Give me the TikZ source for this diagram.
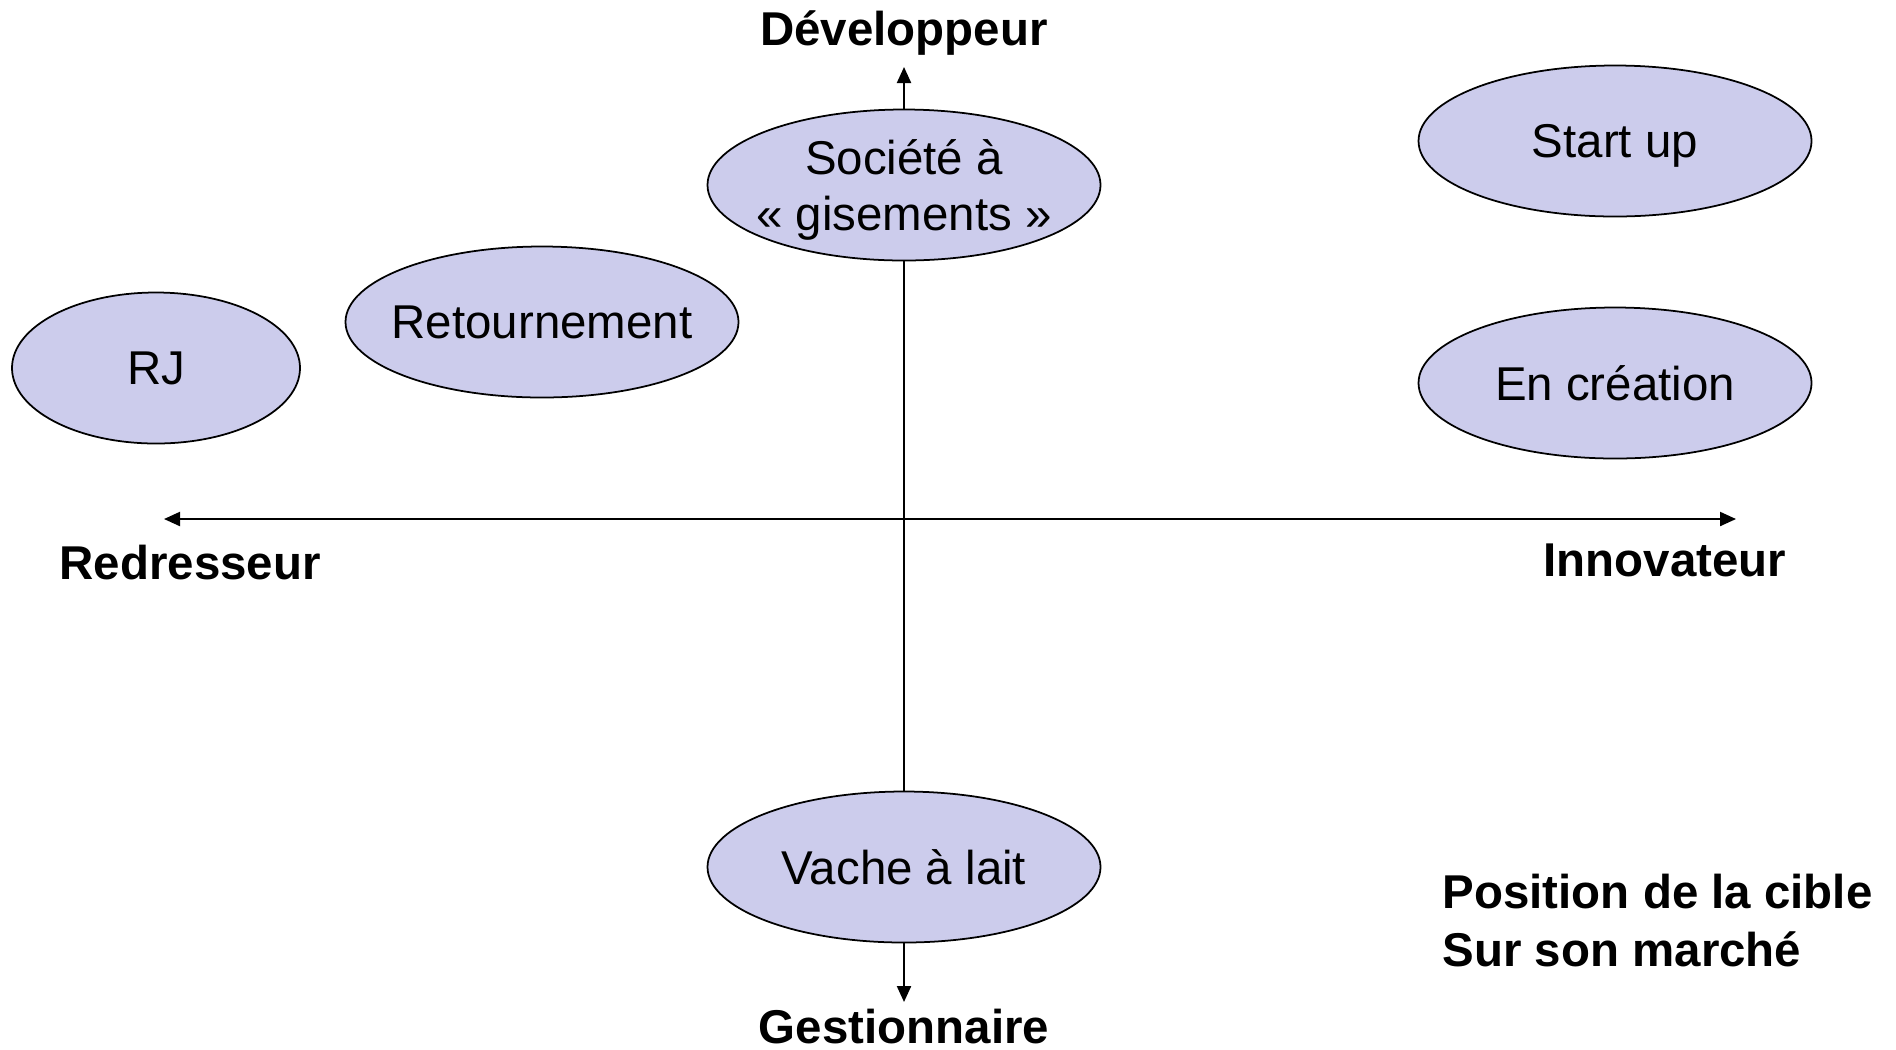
\documentclass[tikz,border=0pt]{standalone}
\usepackage{fontspec}
\setmainfont{Liberation Sans}
\usetikzlibrary{arrows.meta,shapes.geometric}
\definecolor{lav}{RGB}{204,204,236}
\definecolor{ink}{RGB}{0,0,0}

\begin{document}
\begin{tikzpicture}[
  x=0.1mm, y=-0.1mm,
  font=\fontsize{13.5}{16.2}\selectfont,
  >={Triangle[length=1.6mm,width=1.4mm]},
  every node/.style={inner sep=0pt, text=ink},
  pole/.style={draw=ink, fill=lav, ellipse, line width=0.5pt,
               minimum width=39.3mm, minimum height=15.1mm,
               inner xsep=-4pt, text depth=0pt, align=center},
  axis/.style={draw=ink, line width=0.6pt, <->},
  pol/.style={font=\fontsize{13.5}{16.2}\selectfont\bfseries},
]
\useasboundingbox (0,0) rectangle (1896,1049);

% ---------------- axes ----------------
\coordinate (top)    at (904,67);
\coordinate (bottom) at (904,1002);
\coordinate (left)   at (164,519);
\coordinate (right)  at (1736,519);

\draw[axis] (bottom) -- (top);
\draw[axis] (left) -- (right);

% axis ends
\node[pol, anchor=base]      (dev)  at (904,45)   {Développeur};
\node[pol, anchor=base]      (gest) at (904,1043) {Gestionnaire};
\node[pol, anchor=base west] (red)  at (59,579)   {Redresseur};
\node[pol, anchor=base east] (inno) at (1787,576) {Innovateur};

% ---------------- targets ----------------
\node[pole] (soc)    at (904,185)  {Société à\\« gisements »};
\node[pole] (start)  at (1615,141) {Start up};
\node[pole, minimum width=28.8mm] (rj) at (156,368) {RJ};
\node[pole] (ret)    at (542,322)  {Retournement};
\node[pole] (crea)   at (1615,383) {En création};
\node[pole] (vache)  at (904,867)  {Vache à lait};

% caption
\node[pol, anchor=west, align=left, font=\fontsize{13.5}{16.5}\selectfont\bfseries]
  (titre) at (1442,921) {Position de la cible\\Sur son marché};

\end{tikzpicture}
\end{document}
